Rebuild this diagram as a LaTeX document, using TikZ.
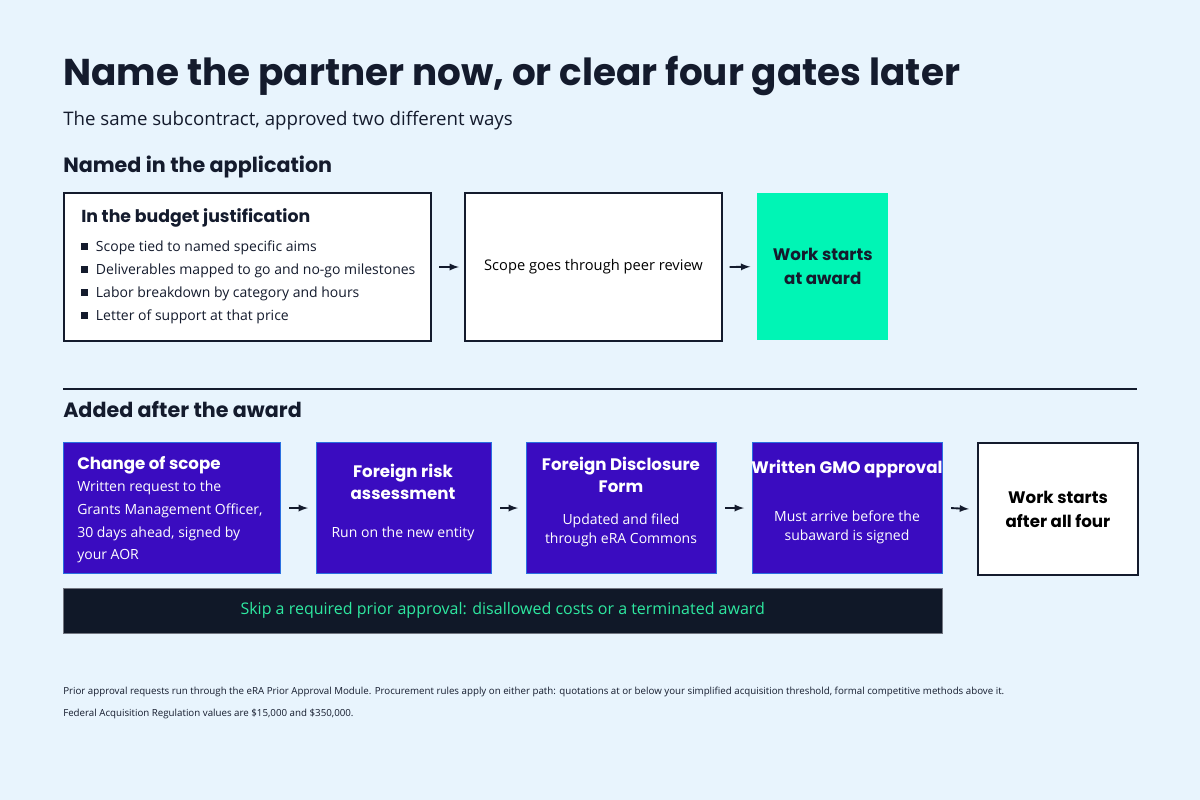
\documentclass[tikz,border=0pt]{standalone}
\usepackage{fontspec}
\setmainfont{Open Sans}
\newfontfamily\headfont{Poppins}
\usetikzlibrary{positioning}
\definecolor{bgblue}{HTML}{E8F4FD}
\definecolor{ink}{HTML}{141B2D}
\definecolor{gatepurple}{HTML}{3A0CC0}
\definecolor{gateedge}{HTML}{2A6FE0}
\definecolor{startgreen}{HTML}{00F5B5}
\definecolor{warnbg}{HTML}{101828}
\definecolor{warngreen}{HTML}{2EE8A0}
\begin{document}
\begin{tikzpicture}[x=0.75pt,y=-0.75pt,
  stepbox/.style={draw=ink, line width=1.5pt, fill=white, anchor=north west, inner sep=0pt},
  gate/.style={draw=gateedge, line width=0.8pt, fill=gatepurple, text=white, anchor=north west, inner sep=0pt},
  flow/.style={-latex, line width=1.4pt, draw=ink},
  head/.style={anchor=base west, text=ink, inner sep=0pt}]
\fill[bgblue] (0,0) rectangle (1200,800);
\useasboundingbox (0,0) rectangle (1200,800);
% titles
\node[head, font=\headfont\fontsize{28}{32}\selectfont\bfseries] (title) at (63,85) {Name the partner now, or clear four gates later};
\node[head, font=\fontsize{14}{17}\selectfont] (sub) at (63,125) {The same subcontract, approved two different ways};
\node[head, font=\headfont\fontsize{15.5}{18}\selectfont\bfseries] (sec1) at (63,172) {Named in the application};
\node[head, font=\headfont\fontsize{15.5}{18}\selectfont\bfseries] (sec2) at (63,417) {Added after the award};
% path one
\node[stepbox, minimum width=367*0.75pt, minimum height=148*0.75pt] (budget) at (63,192) {};
\node[head, font=\headfont\fontsize{13}{16}\selectfont\bfseries] at (81,222) {In the budget justification};
\foreach \t [count=\i] in {Scope tied to named specific aims, Deliverables mapped to go and no-go milestones, Labor breakdown by category and hours, Letter of support at that price}
  \node[head, font=\fontsize{10.5}{13}\selectfont] at (81,251+23*\i-23) {\rule[0.2ex]{0.45em}{0.45em}\hspace{0.6em}\t};
\node[stepbox, minimum width=257*0.75pt, minimum height=148*0.75pt, font=\fontsize{11}{14}\selectfont] (review) at (464,192) {Scope goes through peer review};
\node[anchor=north west, fill=startgreen, minimum width=131*0.75pt, minimum height=147*0.75pt, inner sep=0pt, align=center, text=ink, font=\headfont\fontsize{12.5}{18}\selectfont\bfseries] (award) at (757,193) {Work starts\\at award};
\draw[flow] (budget.east) ++(7,0) coordinate (a1) -- ++(20,0);
\draw[flow] ([xshift=5pt]review.east) -- ([xshift=-5pt]award.west);
\draw[ink, line width=0.8pt] (63,389) coordinate (r1) -- (1137,389) coordinate (r2);
% path two
\node[gate, minimum width=217*0.75pt, minimum height=131*0.75pt] (scope) at (63,442) {};
\node[head, text=white, font=\headfont\fontsize{12.5}{16}\selectfont\bfseries] at (77,469) {Change of scope};
\node[anchor=north west, text=white, align=left, inner sep=0pt, font=\fontsize{10.5}{17}\selectfont] at (77,481) {Written request to the\\Grants Management Officer,\\30 days ahead, signed by\\your AOR};
\node[gate, minimum width=175*0.75pt, minimum height=131*0.75pt] (risk) at (316,442) {};
\node[align=center, text=white, font=\headfont\fontsize{12.5}{16}\selectfont\bfseries] at (403,482) {Foreign risk\\assessment};
\node[text=white, font=\fontsize{10.5}{13}\selectfont] at (403,534) {Run on the new entity};
\node[gate, minimum width=190*0.75pt, minimum height=131*0.75pt] (disclose) at (526,442) {};
\node[align=center, text=white, font=\headfont\fontsize{12.5}{16}\selectfont\bfseries] at (621,475) {Foreign Disclosure\\Form};
\node[align=center, text=white, font=\fontsize{10.5}{14}\selectfont] at (621,530) {Updated and filed\\through eRA Commons};
\node[gate, minimum width=190*0.75pt, minimum height=131*0.75pt] (gmo) at (752,442) {};
\node[text=white, font=\headfont\fontsize{12.5}{16}\selectfont\bfseries] at (847,469) {Written GMO approval};
\node[align=center, text=white, font=\fontsize{10.5}{14}\selectfont] at (847,527) {Must arrive before the\\subaward is signed};
\node[stepbox, minimum width=160*0.75pt, minimum height=132*0.75pt, align=center, font=\headfont\fontsize{12.5}{18}\selectfont\bfseries] (allfour) at (977,442) {Work starts\\after all four};
\foreach \p/\q in {scope/risk, risk/disclose, disclose/gmo, gmo/allfour}
  \draw[flow] ([xshift=6pt]\p.east) -- ([xshift=-6pt]\q.west);
\node[anchor=north west, fill=warnbg, draw=ink!60, minimum width=879*0.75pt, minimum height=45*0.75pt, inner sep=0pt] (warn) at (63,588) {};
\node[text=warngreen, font=\fontsize{12}{14}\selectfont] at (warn.center) {Skip a required prior approval: disallowed costs or a terminated award};
% footnote
\node[head, font=\fontsize{7.3}{9}\selectfont] (note1) at (63,694) {Prior approval requests run through the eRA Prior Approval Module. Procurement rules apply on either path: quotations at or below your simplified acquisition threshold, formal competitive methods above it.};
\node[head, font=\fontsize{7.3}{9}\selectfont] (note2) at (63,716) {Federal Acquisition Regulation values are \$15,000 and \$350,000.};
\end{tikzpicture}
\end{document}
